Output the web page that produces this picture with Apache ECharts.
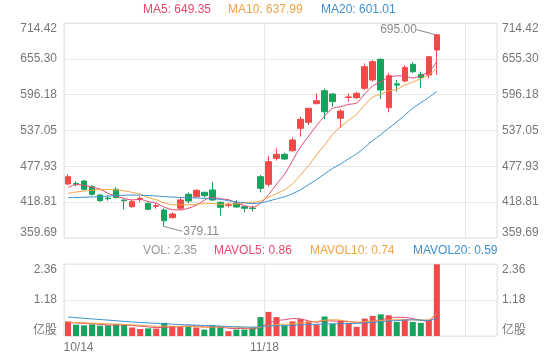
<!DOCTYPE html>
<html><head><meta charset="utf-8">
<script src="https://cdn.jsdelivr.net/npm/echarts@6/dist/echarts.min.js"></script>
<style>html,body{margin:0;padding:0;background:#fff}#c{width:560px;height:360px}</style>
</head><body><div id="c"></div>
<script>
const dates = ['10/14','10/15','10/16','10/17','10/18','10/21','10/22','10/23','10/24','10/25',
  '10/28','10/29','10/30','10/31','11/01','11/04','11/05','11/06','11/07','11/08',
  '11/11','11/12','11/13','11/14','11/15','11/18','11/19','11/20','11/21','11/22',
  '11/25','11/26','11/27','11/28','11/29','12/02','12/03','12/04','12/05','12/06',
  '12/09','12/10','12/11','12/12','12/13','12/16','12/17'];
const slotCount = 54;
const opens  = [448.8,449.5,453.7,444.3,430.6,425.5,440.0,422.2,411.3,424.0,
  416.9,412.0,405.9,393.2,408.7,431.8,427.8,435.1,438.9,418.6,
  413.5,416.9,411.3,409.0,460.8,448.3,491.2,497.8,503.7,540.7,
  550.6,581.3,602.7,597.3,557.2,591.5,591.2,606.7,620.4,654.5,
  574.7,614.0,618.7,646.3,629.8,628.6,669.9];
const closes = [460.8,448.5,440.0,431.8,421.2,424.5,426.2,421.2,419.6,425.0,
  407.0,413.0,388.2,399.3,422.4,420.7,438.4,429.5,422.4,410.3,
  414.5,410.8,408.7,408.5,441.7,485.6,497.8,490.0,521.4,555.5,
  573.7,586.2,568.1,584.6,569.2,592.5,598.4,642.3,650.6,603.9,
  627.5,612.0,640.7,634.1,624.2,658.8,695.0];
const lows   = [447.0,445.0,439.4,429.5,419.6,421.2,425.2,407.0,409.7,419.0,
  406.0,408.0,379.11,392.2,405.9,416.9,426.2,426.2,420.7,396.5,
  410.0,409.7,402.0,403.0,435.1,444.3,487.2,488.4,502.1,526.8,
  546.1,580.3,555.5,576.3,541.5,584.6,589.0,603.9,617.6,589.0,
  567.1,601.1,616.6,631.4,606.7,623.2,628.6];
const highs  = [464.8,453.0,455.4,447.1,431.5,430.6,443.3,423.5,422.4,428.5,
  418.0,417.0,408.7,402.1,426.2,435.1,440.0,436.0,452.6,419.6,
  418.0,422.4,412.0,413.0,463.6,495.0,507.7,500.4,525.8,559.8,
  574.7,598.4,606.7,598.0,572.0,598.4,601.1,647.9,653.4,656.2,
  632.0,620.4,645.1,649.6,634.1,660.0,695.0];
const volumes = [0.48,0.37,0.35,0.38,0.34,0.35,0.39,0.36,0.28,0.23,
  0.25,0.24,0.43,0.32,0.32,0.33,0.28,0.21,0.35,0.29,
  0.16,0.21,0.21,0.28,0.62,0.79,0.62,0.35,0.48,0.55,
  0.48,0.38,0.64,0.40,0.51,0.40,0.30,0.57,0.66,0.71,
  0.68,0.46,0.55,0.46,0.43,0.53,2.35];
// leading moving-average values (depend on days before the window)
const ma5Head  = [442.5,448.0,446.5,443.5];
const ma10Head = [433.4,435.5,437.2,438.5,439.4,439.5,439.0,437.5,435.0];
const ma20Head = [426.2,426.5,427.0,427.3,428.0,428.8,429.5,430.2,430.6,430.4,
  429.8,429.0,428.0,427.2,426.6,426.2,425.8,425.2,424.4];
const mavol5Head  = [0.44,0.43,0.41,0.40];
const mavol10Head = [0.45,0.44,0.43,0.42,0.41,0.40,0.39,0.38,0.365];
const mavol20Head = [0.62,0.60,0.58,0.56,0.54,0.52,0.50,0.48,0.46,0.445,
  0.43,0.415,0.40,0.39,0.375,0.365,0.355,0.345,0.335];
const priceRange = [359.69, 714.42];
const volRange = [0, 2.36];
const priceLegend = ['MA5: 649.35','MA10: 637.99','MA20: 601.01'];
const volLegend = ['VOL: 2.35','MAVOL5: 0.86','MAVOL10: 0.74','MAVOL20: 0.59'];

const UP = '#f24949', DOWN = '#15a35e';
const C5 = '#e4486c', C10 = '#f5a144', C20 = '#3d91d1';
const FONT = '"Liberation Sans", Arial, "Noto Sans CJK SC", sans-serif';

function ma(arr, n, head) {
  const out = head.slice();
  for (let i = n - 1; i < arr.length; i++) {
    let s = 0; for (let j = i - n + 1; j <= i; j++) s += arr[j];
    out.push(+(s / n).toFixed(3));
  }
  return out;
}
const categories = dates.slice();
for (let i = dates.length; i < slotCount; i++) categories.push('_' + i);
const kData = opens.map((o, i) => [o, closes[i], lows[i], highs[i]]);
const volData = volumes.map((v, i) => ({ value: v, itemStyle: { color: closes[i] >= opens[i] ? UP : DOWN } }));

const chart = echarts.init(document.getElementById('c'), null, { renderer: 'canvas' });
const gridLine = '#e8e8e8';
function yFmt(lo, hi, zeroText) {
  return function (v) {
    let s = (Math.abs(v) < 1e-9 && zeroText) ? zeroText : v.toFixed(2);
    if (Math.abs(v - hi) < 1e-6) return '{t|' + s + '}';
    if (Math.abs(v - lo) < 1e-6) return '{b|' + s + '}';
    return s;
  };
}
const richY = {
  t: { padding: [11, 0, 0, 0], color: '#777', fontSize: 12, fontFamily: FONT },
  b: { padding: [0, 0, 10, 0], color: '#777', fontSize: 12, fontFamily: FONT }
};
function yAxis(grid, range, pos, split, zeroText) {
  return {
    type: 'value', gridIndex: grid, position: pos, min: range[0], max: range[1],
    interval: (range[1] - range[0]) / (grid === 0 ? 6 : 2), scale: true,
    axisLine: { show: false }, axisTick: { show: false },
    splitLine: { show: split, lineStyle: { color: gridLine, width: 1 } },
    axisLabel: { color: '#777', fontSize: 12, fontFamily: FONT, margin: pos === 'left' ? 7 : 5,
      formatter: yFmt(range[0], range[1], zeroText), rich: richY }
  };
}
const splitX = { show: true, interval: (i) => i % 25 === 0, lineStyle: { color: gridLine, width: 1 } };

chart.setOption({
  animation: false,
  backgroundColor: '#fff',
  grid: [
    { left: 64, right: 63, top: 23, height: 215, show: true, borderColor: '#e2e2e2', borderWidth: 1 },
    { left: 64, right: 63, top: 264, height: 72, show: true, borderColor: '#e2e2e2', borderWidth: 1 }
  ],
  xAxis: [
    { type: 'category', gridIndex: 0, data: categories, boundaryGap: true,
      axisLine: { show: false }, axisTick: { show: false }, axisLabel: { show: false }, splitLine: splitX },
    { type: 'category', gridIndex: 1, data: categories, boundaryGap: true,
      axisLine: { show: false }, axisTick: { show: false }, splitLine: splitX,
      axisLabel: { show: true, margin: 6, color: '#777', fontSize: 12, fontFamily: FONT,
        interval: (i) => i % 25 === 0 && i < dates.length,
        formatter: (v, i) => (i === 0 ? '{a|' + v + '}' : '{b|' + v + '}'),
        rich: { a: { padding: [0, 0, 0, 21], color: '#777', fontSize: 12, fontFamily: FONT },
                b: { padding: [0, 8, 0, 0], color: '#777', fontSize: 12, fontFamily: FONT } } } }
  ],
  yAxis: [
    yAxis(0, priceRange, 'left', true),
    yAxis(0, priceRange, 'right', false),
    yAxis(1, volRange, 'left', true, '亿股'),
    yAxis(1, volRange, 'right', false, '亿股')
  ],
  series: [
    { type: 'candlestick', xAxisIndex: 0, yAxisIndex: 0, data: kData, barWidth: 6,
      itemStyle: { color: UP, color0: DOWN, borderColor: UP, borderColor0: DOWN, borderWidth: 1 } },
    { type: 'line', xAxisIndex: 0, yAxisIndex: 0, data: ma(closes, 5, ma5Head), smooth: 0.3, symbol: 'none',
      lineStyle: { color: C5, width: 1 } },
    { type: 'line', xAxisIndex: 0, yAxisIndex: 0, data: ma(closes, 10, ma10Head), smooth: 0.3, symbol: 'none',
      lineStyle: { color: C10, width: 1 } },
    { type: 'line', xAxisIndex: 0, yAxisIndex: 0, data: ma(closes, 20, ma20Head), smooth: 0.3, symbol: 'none',
      lineStyle: { color: C20, width: 1 } },
    { type: 'bar', xAxisIndex: 1, yAxisIndex: 2, data: volData, barWidth: 6 },
    { type: 'line', xAxisIndex: 1, yAxisIndex: 2, data: ma(volumes, 5, mavol5Head), smooth: 0.3, symbol: 'none',
      lineStyle: { color: C5, width: 1 } },
    { type: 'line', xAxisIndex: 1, yAxisIndex: 2, data: ma(volumes, 10, mavol10Head), smooth: 0.3, symbol: 'none',
      lineStyle: { color: C10, width: 1 } },
    { type: 'line', xAxisIndex: 1, yAxisIndex: 2, data: ma(volumes, 20, mavol20Head), smooth: 0.3, symbol: 'none',
      lineStyle: { color: C20, width: 1 } }
  ]
});

// annotations for highest high and lowest low, positioned through the axes
let hiI = 0, loI = 0;
highs.forEach((h, i) => { if (h > highs[hiI]) hiI = i; });
lows.forEach((l, i) => { if (l < lows[loI]) loI = i; });
const pHi = chart.convertToPixel({ xAxisIndex: 0, yAxisIndex: 0 }, [hiI, highs[hiI]]);
const pLo = chart.convertToPixel({ xAxisIndex: 0, yAxisIndex: 0 }, [loI, lows[loI]]);
const txt = (x, y, s, color, align) => ({ type: 'text', x: x, y: y, silent: true,
  style: { text: s, fill: color, font: '12px ' + FONT, align: align || 'left', verticalAlign: 'middle' } });
const graphics = [
  { type: 'line', silent: true, shape: { x1: pHi[0] - 1, y1: pHi[1], x2: pHi[0] - 20, y2: pHi[1] - 5 },
    style: { stroke: '#8a8a8a', lineWidth: 1 } },
  txt(pHi[0] - 20, pHi[1] - 5, highs[hiI].toFixed(2), '#8a8a8a', 'right'),
  { type: 'line', silent: true, shape: { x1: pLo[0] - 1, y1: pLo[1], x2: pLo[0] + 18, y2: pLo[1] + 5 },
    style: { stroke: '#8a8a8a', lineWidth: 1 } },
  txt(pLo[0] + 19, pLo[1] + 5, lows[loI].toFixed(2), '#8a8a8a', 'left')
];
const topX = [143, 228, 321], topC = [C5, C10, C20];
priceLegend.forEach((s, i) => graphics.push(txt(topX[i], 10, s, topC[i])));
const volX = [143, 214, 310, 413], volC = ['#999', C5, C10, C20];
volLegend.forEach((s, i) => graphics.push(txt(volX[i], 251, s, volC[i])));
chart.setOption({ graphic: graphics });
</script>
</body></html>
